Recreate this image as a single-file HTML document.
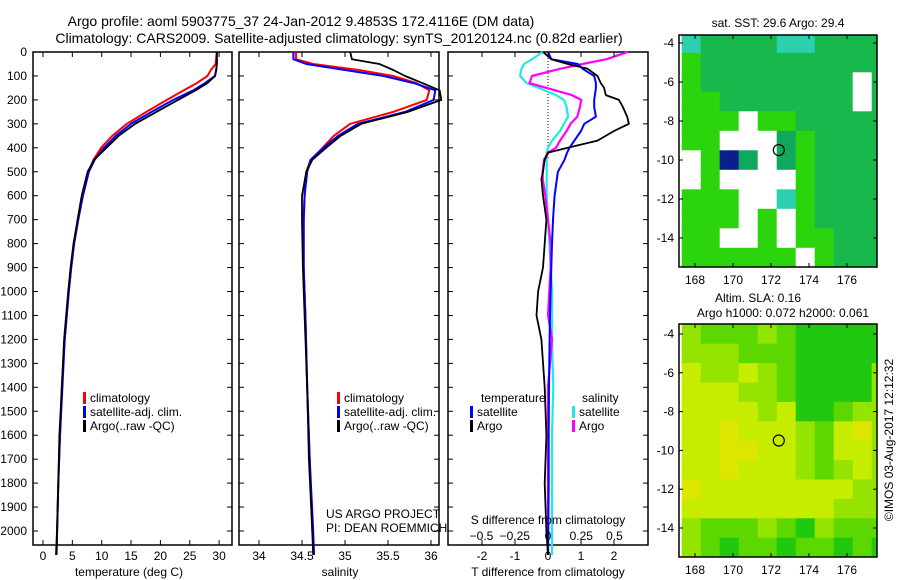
<!DOCTYPE html>
<html><head><meta charset="utf-8"><style>
html,body{margin:0;padding:0;background:#fff;}
svg{display:block;font-family:"Liberation Sans",sans-serif;}
</style></head><body>
<svg id="fig" width="900" height="580" viewBox="0 0 900 580" xmlns="http://www.w3.org/2000/svg">
<text x="301" y="26" font-size="14" text-anchor="middle">Argo profile: aoml 5903775_37 24-Jan-2012 9.4853S 172.4116E (DM data)</text>
<text x="339" y="43" font-size="14" text-anchor="middle">Climatology: CARS2009. Satellite-adjusted climatology: synTS_20120124.nc (0.82d earlier)</text>
<g id="layer"></g>
</svg>
<script>
// ---------- data ----------
const depthT = [0,50,75,100,130,160,200,250,300,350,400,450,500,600,700,800,900,1000,1200,1400,1600,1800,2000,2100];
const tempClim = [29.6,29.4,28.6,28.0,26.2,24.0,21.1,17.6,14.3,11.8,9.9,8.6,7.8,6.8,6.0,5.3,4.8,4.4,3.7,3.2,2.9,2.6,2.4,2.2];
const tempSat  = [29.6,29.6,29.5,29.3,27.6,25.6,22.2,18.5,15.0,12.4,10.4,8.8,7.8,6.8,6.0,5.3,4.8,4.4,3.7,3.3,2.9,2.6,2.4,2.3];
const tempArgo = [29.6,29.6,29.5,29.3,28.0,26.0,23.0,19.3,15.7,12.9,10.8,8.7,7.6,6.6,5.9,5.2,4.7,4.3,3.6,3.2,2.8,2.6,2.4,2.3];
const depthS = [0,30,50,75,100,130,160,200,250,300,350,400,450,500,600,700,900,1100,1400,1700,2000,2100];
const salClim = [34.43,34.43,34.63,35.16,35.56,35.83,35.98,35.95,35.56,35.06,34.87,34.74,34.6,34.55,34.53,34.52,34.52,34.54,34.56,34.59,34.62,34.64];
const salSat  = [34.40,34.40,34.55,35.00,35.45,35.80,36.05,36.03,35.70,35.15,34.92,34.75,34.60,34.56,34.53,34.52,34.52,34.54,34.56,34.59,34.63,34.64];
const salArgo = [35.06,35.08,35.40,35.56,35.70,35.90,36.10,36.12,35.73,35.19,34.95,34.78,34.62,34.55,34.50,34.50,34.51,34.53,34.56,34.58,34.62,34.63];
const depthD = [0,30,50,70,100,130,150,180,200,230,270,300,330,370,400,420,450,500,530,600,700,800,900,1000,1100,1200,1400,1600,1800,2000,2100];
const tDiffArgo = [-0.15,0.1,0.6,1.2,1.5,1.6,1.7,1.75,2.15,2.27,2.4,2.45,2.0,1.5,0.6,0.0,-0.1,-0.15,-0.2,-0.15,-0.05,-0.1,-0.15,-0.3,-0.35,-0.2,-0.1,-0.05,-0.1,-0.05,0];
const tDiffSat  = [0,0.1,0.9,1.05,1.4,1.45,1.45,1.42,1.4,1.4,1.45,1.1,1.0,0.8,0.65,0.58,0.5,0.3,0.27,0.2,0.15,0.12,0.1,0.08,0.06,0.05,0.03,0.02,0.02,0.01,0];
const sDiffArgo = [0.6,0.44,0.26,0.09,-0.12,-0.14,-0.01,0.18,0.25,0.24,0.22,0.17,0.14,0.09,0.06,0.0,-0.03,-0.04,-0.04,-0.02,0,0.02,0.02,0.01,0.0,0.03,0.0,0.0,0.0,0.0,0.0];
const sDiffSat  = [-0.04,-0.12,-0.18,-0.2,-0.21,-0.16,-0.07,0.06,0.12,0.14,0.15,0.12,0.09,0.03,0.0,-0.01,-0.01,-0.01,-0.01,-0.01,0,0.01,0.02,0.03,0.03,0.03,0.04,0.03,0.03,0.03,0.03];
const depthTicks = [0,100,200,300,400,500,600,700,800,900,1000,1100,1200,1300,1400,1500,1600,1700,1800,1900,2000];
const tempTicks = [0,5,10,15,20,25,30];
const salTicks = [34,34.5,35,35.5,36];
const tdTicks = [-2,-1,0,1,2];
const sdTicks = [-0.5,-0.25,0,0.25,0.5];
const lonTicks = [168,170,172,174,176];
const latTicks = [-4,-6,-8,-10,-12,-14];
const argoLon = 172.41, argoLat = -9.49;
// map grids: 1-degree cells, rows from -3.5 southward, columns from 167.3 eastward
const sstGrid = ["cmmmmccmmmm","gmmmmmmmmmm","gmmmmmmmmwm","ggmmmmmmmwm","gggwggmmmmm","ggwwwdgmmmm","wgbdwdgmmmm","wgwwwwgmmmm","gggwwcgmmmm","gggwgwgmmmm","ggwwgwggmmm","ggggggwgmmm"];
const slaGrid = ["lggglgGGGGG","lllgggGGGGG","yllylgGGGGl","yyyllgGGGGl","yyyylyGGgll","yyYyyylgyYl","yyYYyylgyyl","yyYyyylglyl","Yyyyyyyyyll","yyyyyyyylll","lggglgGlggg","lgGggGggGgG"];
const sstColors = {c:"#2ccfae",m:"#18b84c",g:"#2cd40e",d:"#10a85c",w:"#ffffff",b:"#0a1e8c",l:"#66e600"};
const slaColors = {y:"#c6ec00",Y:"#dce600",l:"#94e400",g:"#5cd800",G:"#20c810"};

// ---------- helpers ----------
const NS="http://www.w3.org/2000/svg";
const layer=document.getElementById('layer');
function mk(tag,attrs,parent){const e=document.createElementNS(NS,tag);for(const k in attrs)e.setAttribute(k,attrs[k]);(parent||layer).appendChild(e);return e;}
function txt(s,x,y,size,anchor,parent){const t=mk('text',{x:x,y:y,'font-size':size,'text-anchor':anchor||'middle'},parent);t.textContent=s;return t;}

const pTop=52,pBot=545,d0=52,dPer=0.2395;
const yD=d=>d0+d*dPer;
function panel(name,x0,x1){
  const g=mk('g',{});
  
  
  const r=mk('rect',{x:x0,y:pTop,width:x1-x0,height:pBot-pTop,fill:'none',stroke:'#000','stroke-width':1.5},g);
  
  
  depthTicks.forEach(d=>{mk('line',{x1:x0,x2:x0+5,y1:yD(d),y2:yD(d),stroke:'#000'},g);mk('line',{x1:x1-5,x2:x1,y1:yD(d),y2:yD(d),stroke:'#000'},g);});
  return g;
}
function series(g,name,xs,ds,xf,color,w){
  let p='';xs.forEach((v,i)=>{p+=(i?'L':'M')+xf(v).toFixed(1)+','+yD(ds[i]).toFixed(1);});
  const e=mk('path',{d:p,fill:'none',stroke:color,'stroke-width':w||2,'stroke-linejoin':'round'},g);
  
  
}
function xticks(g,ticks,xf,labelY){
  ticks.forEach(t=>{const x=xf(t);mk('line',{x1:x,x2:x,y1:pBot-5,y2:pBot,stroke:'#000'},g);mk('line',{x1:x,x2:x,y1:pTop,y2:pTop+5,stroke:'#000'},g);
    const l=txt(String(t),x,labelY,12,'middle',g);
    
    });
}
function legend(g,items,x,y){
  items.forEach((it,i)=>{mk('rect',{x:x,y:y+i*14-10,width:3,height:12,fill:it[1]},g);
    const l=txt(it[0],x+7,y+i*14,12,'start',g);
    
    });
}

// ---------- panel 1 temperature ----------
const xT=v=>43+v*5.87;
const p1=panel('temperature-panel',33,232);
depthTicks.forEach(d=>{const l=txt(String(d),27,yD(d)+4,12,'end',p1);
  
  });
series(p1,'temp-climatology-line',tempClim,depthT,xT,'#ff0000');
series(p1,'temp-satellite-line',tempSat,depthT,xT,'#0000ff');
series(p1,'temp-argo-line',tempArgo,depthT,xT,'#000000',1.8);
xticks(p1,tempTicks,xT,560);
const xl1=txt('temperature (deg C)',129,576,12,'middle',p1);


legend(p1,[['climatology','#ff0000'],['satellite-adj. clim.','#0000ff'],['Argo(..raw -QC)','#000']],83,402);

// ---------- panel 2 salinity ----------
const xS=v=>259+(v-34)*86;
const p2=panel('salinity-panel',239,439);
series(p2,'sal-climatology-line',salClim,depthS,xS,'#ff0000');
series(p2,'sal-satellite-line',salSat,depthS,xS,'#0000ff');
series(p2,'sal-argo-line',salArgo,depthS,xS,'#000',1.8);
xticks(p2,salTicks,xS,560);
const xl2=txt('salinity',340,576,12,'middle',p2);


legend(p2,[['climatology','#ff0000'],['satellite-adj. clim.','#0000ff'],['Argo(..raw -QC)','#000']],337,402);
const c1=txt('US ARGO PROJECT',326,518,12,'start',p2);


const c2=txt('PI: DEAN ROEMMICH',326,532,12,'start',p2);



// ---------- panel 3 differences ----------
const xTD=v=>548+v*33, xSD=v=>548+v*133;
const p3=panel('difference-panel',448,648);
mk('line',{x1:548,x2:548,y1:pTop,y2:yD(450),stroke:'#000','stroke-dasharray':'1,2'},p3);
series(p3,'sal-diff-satellite-line',sDiffSat,depthD,xSD,'#22e8e8',2.2);
series(p3,'sal-diff-argo-line',sDiffArgo,depthD,xSD,'#ff00ff',2.2);
series(p3,'temp-diff-satellite-line',tDiffSat,depthD,xTD,'#0000ff',2);
series(p3,'temp-diff-argo-line',tDiffArgo,depthD,xTD,'#000',1.8);
xticks(p3,tdTicks,xTD,560);
sdTicks.forEach(t=>{const l=txt(String(t).replace('-','\u2212'),xSD(t),540,12,'middle',p3);
  
  });
const sl=txt('S difference from climatology',548,524,12,'middle',p3);


const tl=txt('T difference from climatology',548,576,12,'middle',p3);


const lh1=txt('temperature',481,402,12,'start',p3);


const lh2=txt('salinity',582,402,12,'start',p3);


legend(p3,[['satellite','#0000ff'],['Argo','#000']],470,416);
legend(p3,[['satellite','#22e8e8'],['Argo','#ff00ff']],572,416);

// ---------- maps ----------
function map(name,y0,y1,latAt4,latPer,grid,colors){
  const x0=679,x1=877,lon168=695,lonPer=19;
  const xL=v=>lon168+(v-168)*lonPer, yL=v=>latAt4+(-4-v)*latPer;
  const g=mk('g',{});
  
  
  const cid='clip'+name;const cp=mk('clipPath',{id:cid},g);mk('rect',{x:x0,y:y0,width:x1-x0,height:y1-y0},cp);
  const cells=mk('g',{'clip-path':'url(#'+cid+')'},g);
  grid.forEach((row,r)=>{[...row].forEach((ch,c)=>{
    const lon=167.3+c, lat=-3.5-r;
    const cell=mk('rect',{x:xL(lon).toFixed(1),y:yL(lat).toFixed(1),width:lonPer+0.6,height:latPer+0.6,fill:colors[ch]||'#fff'},cells);
    
    
  });});
  const fr=mk('rect',{x:x0,y:y0,width:x1-x0,height:y1-y0,fill:'none',stroke:'#000','stroke-width':1.5},g);
  
  
  lonTicks.forEach(t=>{const x=xL(t);mk('line',{x1:x,x2:x,y1:y1-4,y2:y1,stroke:'#000'},g);mk('line',{x1:x,x2:x,y1:y0,y2:y0+4,stroke:'#000'},g);
    const l=txt(String(t),x,y1+17,12,'middle',g);
    
    });
  latTicks.forEach(t=>{const y=yL(t);mk('line',{x1:x0,x2:x0+4,y1:y,y2:y,stroke:'#000'},g);mk('line',{x1:x1-4,x2:x1,y1:y,y2:y,stroke:'#000'},g);
    const l=txt(String(t),674,y+4,12,'end',g);
    
    });
  const m=mk('circle',{cx:xL(argoLon),cy:yL(argoLat),r:5.5,fill:'none',stroke:'#000','stroke-width':1.2},g);
  
  
  return g;
}
const m1=map('sst-map',35,267,43,19.5,sstGrid,sstColors);
const t1=txt('sat. SST: 29.6 Argo: 29.4',778,27,12,'middle',m1);


const m2=map('sla-map',324,557,334,19.4,slaGrid,slaColors);
const t2=txt('Altim. SLA: 0.16',758,302,12,'middle',m2);


const t3=txt('Argo h1000: 0.072 h2000: 0.061',783,317,12,'middle',m2);


const cr=txt('\u00a9IMOS 03-Aug-2017 12:12:32',0,0,12,'middle');
cr.setAttribute('transform','translate(893,440) rotate(-90)');


</script>
</body></html>
